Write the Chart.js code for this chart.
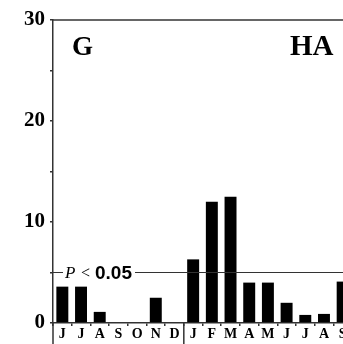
<!DOCTYPE html>
<html>
<head>
<meta charset="utf-8">
<script src="https://cdn.jsdelivr.net/npm/chart.js@4/dist/chart.umd.min.js"></script>
<style>
html, body { margin: 0; padding: 0; background: #fff; overflow: hidden; }
#wrap { width: 343px; height: 344px; overflow: hidden; }
</style>
</head>
<body>
<div id="wrap"><canvas id="graph" width="352" height="344"></canvas></div>
<script>
var months = ['J','J','A','S','O','N','D','J','F','M','A','M','J','J','A','S'];
var counts = [3.6, 3.6, 1.1, 0, 0, 2.5, 0, 6.3, 12.0, 12.5, 4.0, 4.0, 2.0, 0.8, 0.9, 4.1];
var yTicks = [0, 10, 20, 30];
var pLevel = 5;
var yearBreak = 7; // first month of the new year
var leftLabel = 'G', rightLabel = 'HA';

var lineCol = '#333';

var extras = {
    id: 'extras',
    afterDraw: function (chart) {
        var ctx = chart.ctx, a = chart.chartArea;
        var x = chart.scales.x, y = chart.scales.y;
        ctx.save();
        ctx.strokeStyle = lineCol;
        ctx.lineWidth = 1.5;
        // top frame line
        ctx.beginPath();
        ctx.moveTo(a.left, a.top);
        ctx.lineTo(chart.width, a.top);
        ctx.stroke();
        // axis continues below zero
        ctx.beginPath();
        ctx.moveTo(a.left, a.bottom);
        ctx.lineTo(a.left, chart.height);
        ctx.stroke();
        // year divider
        var xb = (x.getPixelForValue(yearBreak - 1) + x.getPixelForValue(yearBreak)) / 2;
        ctx.beginPath();
        ctx.moveTo(xb, a.bottom);
        ctx.lineTo(xb, chart.height);
        ctx.stroke();

        // significance line
        var py = y.getPixelForValue(pLevel);
        ctx.lineWidth = 1.2;
        ctx.beginPath();
        ctx.moveTo(a.left - 3, py);
        ctx.lineTo(a.left + 10, py);
        ctx.moveTo(a.left + 82, py);
        ctx.lineTo(chart.width, py);
        ctx.stroke();
        ctx.fillStyle = '#000';
        ctx.textBaseline = 'middle';
        ctx.textAlign = 'left';
        ctx.font = 'italic 17px "Liberation Serif"';
        ctx.fillText('P', a.left + 12, py + 1);
        ctx.font = '16px "Liberation Serif"';
        ctx.fillText('<', a.left + 28, py + 1);
        ctx.font = 'bold 19px "Liberation Sans"';
        ctx.fillText('0.05', a.left + 42, py + 1);

        // panel letters
        ctx.font = 'bold 27px "Liberation Serif"';
        ctx.fillText(leftLabel, a.left + 19, 48);
        ctx.font = 'bold 29px "Liberation Serif"';
        ctx.fillText(rightLabel, 290, 48);
        ctx.restore();
    }
};

new Chart(document.getElementById('graph'), {
    type: 'bar',
    data: {
        labels: months,
        datasets: [{
            data: counts,
            backgroundColor: '#000',
            borderWidth: 0,
            barPercentage: 0.64,
            categoryPercentage: 1
        }]
    },
    options: {
        responsive: false,
        animation: false,
        events: [],
        layout: { padding: { top: 20, right: 0, left: 0, bottom: 0 } },
        plugins: { legend: { display: false }, tooltip: { enabled: false } },
        scales: {
            x: {
                offset: true,
                grid: { offset: true, drawOnChartArea: false, drawTicks: true, tickLength: 3, color: lineCol, lineWidth: 1.5 },
                border: { display: true, color: lineCol, width: 1.5 },
                ticks: {
                    color: '#000',
                    padding: 0,
                    maxRotation: 0,
                    autoSkip: false,
                    font: { family: '"Liberation Serif"', weight: 'bold', size: 14 }
                },
                afterFit: function (s) { s.height = 21; }
            },
            y: {
                min: 0,
                max: 30,
                grid: { drawOnChartArea: false, drawTicks: true, tickLength: 3, color: lineCol, lineWidth: 1.5 },
                border: { display: true, color: lineCol, width: 1.5 },
                ticks: {
                    stepSize: 5,
                    color: '#000',
                    padding: 5,
                    font: { family: '"Liberation Serif"', weight: 'bold', size: 21 },
                    callback: function (v) { return yTicks.indexOf(v) >= 0 ? v : ''; }
                },
                afterFit: function (s) { s.width = 53; }
            }
        }
    },
    plugins: [extras]
});
</script>
</body>
</html>
